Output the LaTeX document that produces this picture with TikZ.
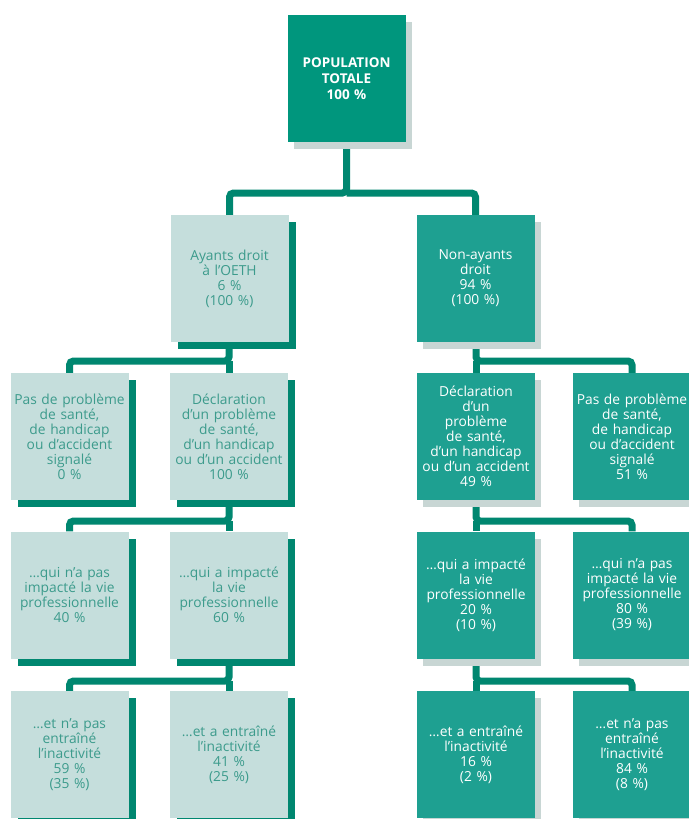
\documentclass[tikz,border=0pt]{standalone}
\usepackage{fontspec}
\setmainfont{Open Sans}
\usetikzlibrary{shadows,backgrounds}
\definecolor{linecol}{RGB}{0,135,112}
\definecolor{topcol}{RGB}{0,150,125}
\definecolor{darkbox}{RGB}{30,160,145}
\definecolor{lightbox}{RGB}{197,222,220}
\definecolor{lighttext}{RGB}{60,155,140}
\definecolor{grayshadow}{RGB}{200,214,212}
\tikzset{
  box/.style={minimum width=118pt, minimum height=127pt, inner sep=0pt, align=center,
    text width=117pt, font=\fontsize{13.8}{15}\selectfont},
  lightnode/.style={box, fill=lightbox, text=lighttext,
    drop shadow={shadow xshift=7pt, shadow yshift=-7pt, fill=linecol, opacity=1}},
  darknode/.style={box, fill=darkbox, text=white,
    drop shadow={shadow xshift=6pt, shadow yshift=-7pt, fill=grayshadow, opacity=1}},
  topnode/.style={darknode, fill=topcol, font=\bfseries\fontsize{13.5}{16}\selectfont},
  connector/.style={draw=linecol, line width=7pt, rounded corners=4pt},
}
\begin{document}
\begin{tikzpicture}[x=1pt,y=-1pt]
\useasboundingbox (0,0) rectangle (688,819);
% level 0
\node[topnode] (top) at (346.5,78.5) {POPULATION\\TOTALE\\100 \%};
% level 1
\node[lightnode] (ay) at (229.5,278.5) {Ayants droit\\à l’OETH\\6 \%\\(100 \%)};
\node[darknode] (nay) at (475.5,278.5) {Non-ayants\\droit\\94 \%\\(100 \%)};
% level 2
\node[lightnode] (l2a) at (69.5,436.5) {Pas de problème\\de santé,\\de handicap\\ou d’accident\\signalé\\0 \%};
\node[lightnode] (l2b) at (229,436.5) {Déclaration\\d’un problème\\de santé,\\d’un handicap\\ou d’un accident\\100 \%};
\node[darknode] (l2c) at (476,436.5) {Déclaration\\d’un\\problème\\de santé,\\d’un handicap\\ou d’un accident\\49 \%};
\node[darknode] (l2d) at (632,436.5) {Pas de problème\\de santé,\\de handicap\\ou d’accident\\signalé\\51 \%};
% level 3
\node[lightnode] (l3a) at (69.5,595) {…qui n’a pas\\impacté la vie\\professionnelle\\40 \%};
\node[lightnode] (l3b) at (229,595) {…qui a impacté\\la vie\\professionnelle\\60 \%};
\node[darknode] (l3c) at (476,595) {…qui a impacté\\la vie\\professionnelle\\20 \%\\(10 \%)};
\node[darknode] (l3d) at (632,595) {…qui n’a pas\\impacté la vie\\professionnelle\\80 \%\\(39 \%)};
% level 4
\node[lightnode] (l4a) at (69.5,754.5) {…et n’a pas\\entraîné\\l’inactivité\\59 \%\\(35 \%)};
\node[lightnode] (l4b) at (229,754.5) {…et a entraîné\\l’inactivité\\41 \%\\(25 \%)};
\node[darknode] (l4c) at (476,754.5) {…et a entraîné\\l’inactivité\\16 \%\\(2 \%)};
\node[darknode] (l4d) at (632,754.5) {…et n’a pas\\entraîné\\l’inactivité\\84 \%\\(8 \%)};
% connectors
\begin{scope}[on background layer]
\fill[white] (0,0) rectangle (688,819);
\coordinate (j0) at (346.5,193);
\draw[connector] (top.south) -- (j0) -| (ay.north);
\draw[connector] (j0) -| (nay.north);
\coordinate (j1) at (229,361);
\draw[connector] (ay.south -| j1) -- (j1) -| (l2a.north);
\draw[connector] (j1) -- (l2b.north);
\coordinate (j2) at (476,361);
\draw[connector] (nay.south -| j2) -- (j2) -| (l2d.north);
\draw[connector] (j2) -- (l2c.north);
\coordinate (j3) at (229,521);
\draw[connector] (l2b.south) -- (j3) -| (l3a.north);
\draw[connector] (j3) -- (l3b.north);
\coordinate (j4) at (476,521);
\draw[connector] (l2c.south) -- (j4) -| (l3d.north);
\draw[connector] (j4) -- (l3c.north);
\coordinate (j5) at (229,681);
\draw[connector] (l3b.south) -- (j5) -| (l4a.north);
\draw[connector] (j5) -- (l4b.north);
\coordinate (j6) at (476,681);
\draw[connector] (l3c.south) -- (j6) -| (l4d.north);
\draw[connector] (j6) -- (l4c.north);
\end{scope}
\end{tikzpicture}
\end{document}
